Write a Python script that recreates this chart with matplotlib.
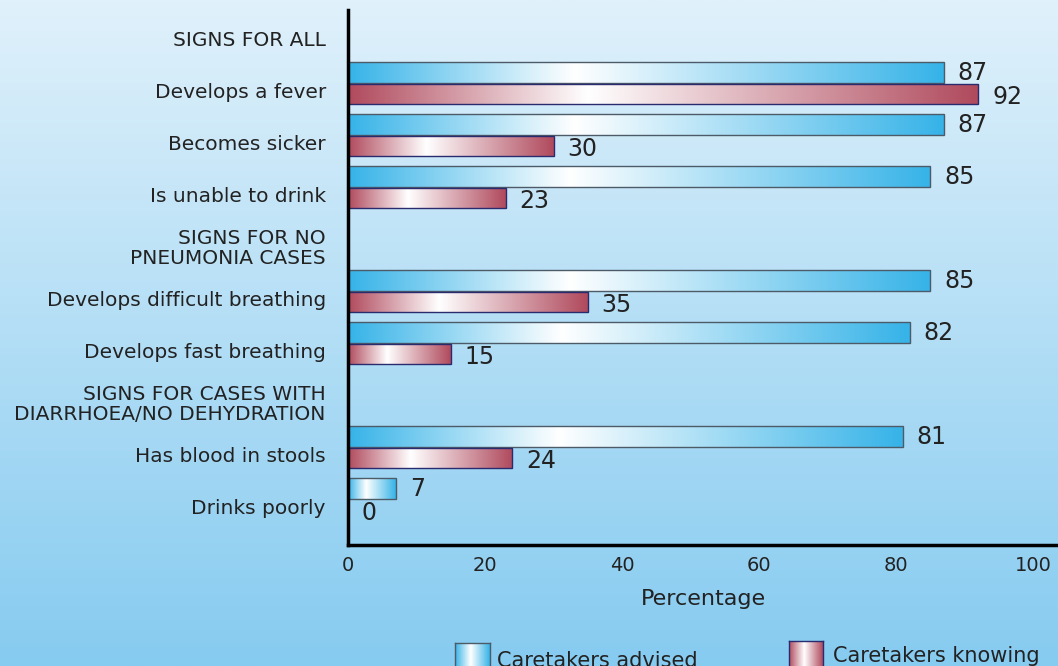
import numpy as np
import matplotlib
matplotlib.use('Agg')
import matplotlib.pyplot as plt
from matplotlib.colors import LinearSegmentedColormap

# ---------------- data ----------------
categories = ["SIGNS FOR ALL", "Develops a fever", "Becomes sicker", "Is unable to drink",
              "SIGNS FOR NO\nPNEUMONIA CASES", "Develops difficult breathing",
              "Develops fast breathing", "SIGNS FOR CASES WITH\nDIARRHOEA/NO DEHYDRATION",
              "Has blood in stools", "Drinks poorly"]
advised = [None, 87, 87, 85, None, 85, 82, None, 81, 7]
knowing = [None, 92, 30, 23, None, 35, 15, None, 24, 0]
series_names = ["Caretakers advised", "Caretakers knowing"]
xticks = [0, 20, 40, 60, 80, 100]
xlabel = "Percentage"

# ---------------- style ----------------
plt.rcParams['font.family'] = ['DejaVu Sans']
TXT = '#222222'
BLUE = '#36b3e8'
RED = '#b04a5d'
cmap_blue = LinearSegmentedColormap.from_list('b', [(0, BLUE), (0.38, '#ffffff'), (1, BLUE)])
cmap_red = LinearSegmentedColormap.from_list('r', [(0, RED), (0.38, '#ffffff'), (1, RED)])
cmap_blue_leg = LinearSegmentedColormap.from_list('bl', [(0, BLUE), (0.45, '#ffffff'), (1, BLUE)])
cmap_red_leg = LinearSegmentedColormap.from_list('rl', [(0, RED), (0.45, '#ffffff'), (1, RED)])
bg_cmap = LinearSegmentedColormap.from_list('bg', ['#e0f1fb', '#86cbf0'])

fig = plt.figure(figsize=(10.58, 6.66), dpi=100)

# background gradient
bg = fig.add_axes([0, 0, 1, 1], zorder=-10)
bg.imshow(np.linspace(0, 1, 256).reshape(-1, 1), cmap=bg_cmap, aspect='auto',
          extent=[0, 1, 0, 1], origin='upper')
bg.set_axis_off()

W, H = 1058, 666
ax_left, ax_right = 348 / W, 1.0
ax_bottom, ax_top = 1 - 545 / H, 1 - 10 / H
ax = fig.add_axes([ax_left, ax_bottom, ax_right - ax_left, ax_top - ax_bottom])
ax.set_facecolor('none')

ypos = np.arange(len(categories))
h = 0.40
off_blue = -0.33
off_red = 0.077


def fill_gradient(patch, cmap):
    x0, y0 = patch.get_x(), patch.get_y()
    w, hh = patch.get_width(), patch.get_height()
    if w <= 0:
        return
    grad = np.linspace(0, 1, 256).reshape(1, -1)
    im = ax.imshow(grad, cmap=cmap, extent=[x0, x0 + w, y0 + hh, y0], aspect='auto',
                   zorder=1, interpolation='bilinear')
    im.set_clip_path(patch)


for vals, off, cmap, ec, dy in [(advised, off_blue, cmap_blue, '#4d5b68', 0),
                                (knowing, off_red, cmap_red, '#2a2a6e', -2)]:
    idx = [i for i, v in enumerate(vals) if v is not None]
    widths = [vals[i] for i in idx]
    bars = ax.barh(ypos[idx] + off, widths, height=h, facecolor='none',
                   edgecolor=ec, linewidth=1.0, zorder=2)
    for p in bars.patches:
        fill_gradient(p, cmap)
    for i, v in zip(idx, widths):
        ax.annotate(f"{v}", xy=(v, ypos[i] + off), xytext=(10, dy),
                    textcoords='offset points', va='center', ha='left',
                    fontsize=17, color=TXT)

ax.set_yticks(ypos)
ax.set_yticklabels(categories, fontsize=14.5, color=TXT, linespacing=1.05)
ax.set_xticks(xticks)
ax.set_xticklabels([str(t) for t in xticks], fontsize=14, color=TXT)
ax.tick_params(axis='both', length=0)
ax.tick_params(axis='x', pad=8)
ax.tick_params(axis='y', pad=16)
ax.set_xlabel(xlabel, fontsize=16, color=TXT, labelpad=10)

ax.set_xlim(0, 710 / 6.85)
ax.set_ylim((545 - 38) / 52, (10 - 38) / 52)

for s in ['top', 'right']:
    ax.spines[s].set_visible(False)
for s in ['left', 'bottom']:
    ax.spines[s].set_linewidth(2.5)
    ax.spines[s].set_color('#000000')

# ---------------- legend ----------------
def legend_box(rect, cmap, ec):
    lax = fig.add_axes(rect)
    lax.imshow(np.linspace(0, 1, 256).reshape(1, -1), cmap=cmap, aspect='auto',
               extent=[0, 1, 0, 1], interpolation='bilinear')
    lax.set_xticks([])
    lax.set_yticks([])
    for s in lax.spines.values():
        s.set_color(ec)
        s.set_linewidth(1.0)
    return lax

legend_box([455 / W, -0.02, 35 / W, 0.02 + 1 - 643 / H], cmap_blue_leg, '#4d5b68')
legend_box([789 / W, -0.02, 34 / W, 0.02 + 1 - 641 / H], cmap_red_leg, '#2a2a6e')
fig.text(497 / W, 1 - 667 / H, series_names[0], fontsize=15, color=TXT, va='baseline')
fig.text(833 / W, 1 - 662 / H, series_names[1], fontsize=15, color=TXT, va='baseline')

fig.savefig('out.png', dpi=100)
